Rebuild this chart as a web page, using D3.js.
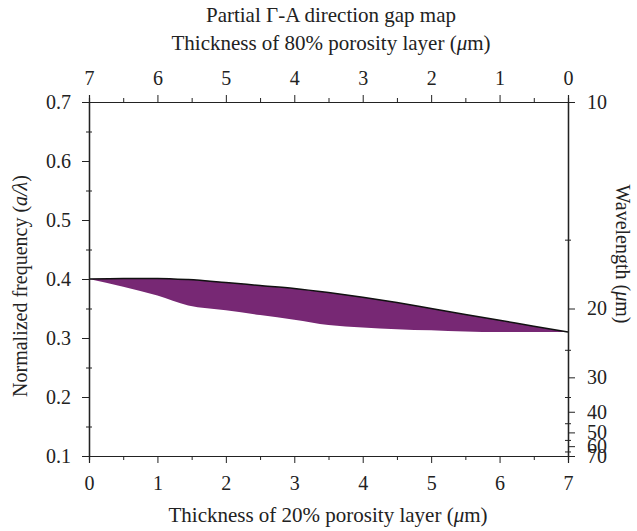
<!DOCTYPE html>
<html lang="en">
<head>
<meta charset="UTF-8"/>
<title>Partial Gamma-A direction gap map</title>
<script src="https://d3js.org/d3.v7.min.js"></script>
<style>
  body { margin: 0; background: #fff; }
  text { font-family: "Liberation Serif", "DejaVu Serif", serif; fill: #222; }
  .domain, .tick line { stroke: #222; }
</style>
</head>
<body>
<script>
    var w = 637;
    var h = 531;
    var margin = { top: 102, right: 69, bottom: 75, left: 89 };

    // thickness of the 20% porosity layer (um)
    var thickness = [0, 0.5, 1, 1.45, 2, 2.5, 3, 3.5, 4, 4.5, 5, 5.5, 6, 6.5, 7];
    // upper and lower edge of the gap (a/lambda)
    var upperEdge = [0.400, 0.401, 0.401, 0.399, 0.394, 0.389, 0.384, 0.377, 0.369, 0.360, 0.350, 0.340, 0.330, 0.320, 0.310];
    var lowerEdge = [0.400, 0.387, 0.372, 0.355, 0.347, 0.339, 0.331, 0.322, 0.318, 0.315, 0.313, 0.311, 0.310, 0.310, 0.310];

    var freqTicks = [0.1, 0.2, 0.3, 0.4, 0.5, 0.6, 0.7];
    var freqMinor = [0.15, 0.25, 0.35, 0.45, 0.55, 0.65];
    var thickTicks = [0, 1, 2, 3, 4, 5, 6, 7];
    var thickMinor = [0.5, 1.5, 2.5, 3.5, 4.5, 5.5, 6.5];
    var waveTicks = [10, 20, 30, 40, 50, 60, 70];
    var waveMinor = [15, 25, 35, 45, 55, 65];
    var latticeA = 7; // lambda = a / f

    var svg = d3.select("body")
        .append("svg")
        .attr("width", w)
        .attr("height", h);

    var xScale = d3.scaleLinear()
        .domain([0, 7])
        .range([margin.left, w - margin.right]);

    var xTop = d3.scaleLinear()
        .domain([7, 0])
        .range([margin.left, w - margin.right]);

    var yScale = d3.scaleLinear()
        .domain([0.1, 0.7])
        .range([h - margin.bottom, margin.top]);

    var gap = thickness.map(function(t, i) {
        return { x: t, hi: upperEdge[i], lo: lowerEdge[i] };
    });

    // gap area
    svg.append("path")
        .datum(gap)
        .attr("fill", "#772874")
        .attr("d", d3.area()
            .x(function(d) { return xScale(d.x); })
            .y0(function(d) { return yScale(d.lo); })
            .y1(function(d) { return yScale(d.hi); })
            .curve(d3.curveMonotoneX));

    svg.append("path")
        .datum(gap)
        .attr("fill", "none")
        .attr("stroke", "#111")
        .attr("stroke-width", 1.5)
        .attr("d", d3.line()
            .x(function(d) { return xScale(d.x); })
            .y(function(d) { return yScale(d.hi); })
            .curve(d3.curveMonotoneX));

    // minor ticks
    svg.append("g")
        .attr("transform", "translate(0," + (h - margin.bottom) + ")")
        .call(d3.axisBottom(xScale).tickValues(thickMinor).tickSize(4).tickFormat(""));
    svg.append("g")
        .attr("transform", "translate(0," + margin.top + ")")
        .call(d3.axisTop(xTop).tickValues(thickMinor).tickSize(4).tickFormat(""));
    [3, -3].forEach(function(s) {
        svg.append("g")
            .attr("transform", "translate(" + margin.left + ",0)")
            .call(d3.axisLeft(yScale).tickValues(freqMinor).tickSize(s).tickFormat(""));
        svg.append("g")
            .attr("transform", "translate(" + (w - margin.right) + ",0)")
            .call(d3.axisRight(yScale)
                .tickValues(waveMinor.map(function(l) { return latticeA / l; }))
                .tickSize(s).tickFormat(""));
    });

    // major axes
    svg.append("g")
        .attr("transform", "translate(0," + (h - margin.bottom) + ")")
        .call(d3.axisBottom(xScale).tickValues(thickTicks).tickSize(7).tickPadding(13).tickFormat(d3.format("d")));

    svg.append("g")
        .attr("transform", "translate(0," + margin.top + ")")
        .call(d3.axisTop(xTop).tickValues(thickTicks).tickSize(7).tickPadding(10).tickFormat(d3.format("d")));

    svg.append("g")
        .attr("transform", "translate(" + margin.left + ",0)")
        .call(d3.axisLeft(yScale).tickValues(freqTicks).tickSize(7).tickPadding(11).tickFormat(d3.format(".1f")));

    svg.append("g")
        .attr("transform", "translate(" + (w - margin.right) + ",0)")
        .call(d3.axisRight(yScale)
            .tickValues(waveTicks.map(function(l) { return latticeA / l; }))
            .tickSize(7).tickPadding(12)
            .tickFormat(function(f) { return Math.round(latticeA / f); }));

    svg.selectAll(".tick text").attr("font-size", "20px").style("font-family", "'Liberation Serif', serif");
    svg.selectAll(".domain").attr("stroke-width", 1.2);

    // titles
    svg.append("text")
        .attr("x", 331).attr("y", 22)
        .attr("text-anchor", "middle")
        .attr("font-size", "21px")
        .text("Partial \u0393-A direction gap map");

    var topTitle = svg.append("text")
        .attr("x", 331).attr("y", 50)
        .attr("text-anchor", "middle")
        .attr("font-size", "21px");
    topTitle.append("tspan").text("Thickness of 80% porosity layer (");
    topTitle.append("tspan").attr("font-style", "italic").text("\u03bc");
    topTitle.append("tspan").text("m)");

    var bottomTitle = svg.append("text")
        .attr("x", 328).attr("y", 522)
        .attr("text-anchor", "middle")
        .attr("font-size", "21px");
    bottomTitle.append("tspan").text("Thickness of 20% porosity layer (");
    bottomTitle.append("tspan").attr("font-style", "italic").text("\u03bc");
    bottomTitle.append("tspan").text("m)");

    var leftTitle = svg.append("text")
        .attr("transform", "translate(27,286) rotate(-90)")
        .attr("text-anchor", "middle")
        .attr("font-size", "20px");
    leftTitle.append("tspan").text("Normalized frequency (");
    leftTitle.append("tspan").attr("font-style", "italic").text("a/\u03bb");
    leftTitle.append("tspan").text(")");

    var rightTitle = svg.append("text")
        .attr("transform", "translate(616,254) rotate(90)")
        .attr("text-anchor", "middle")
        .attr("font-size", "20px");
    rightTitle.append("tspan").text("Wavelength (");
    rightTitle.append("tspan").attr("font-style", "italic").text("\u03bc");
    rightTitle.append("tspan").text("m)");
</script>
</body>
</html>
